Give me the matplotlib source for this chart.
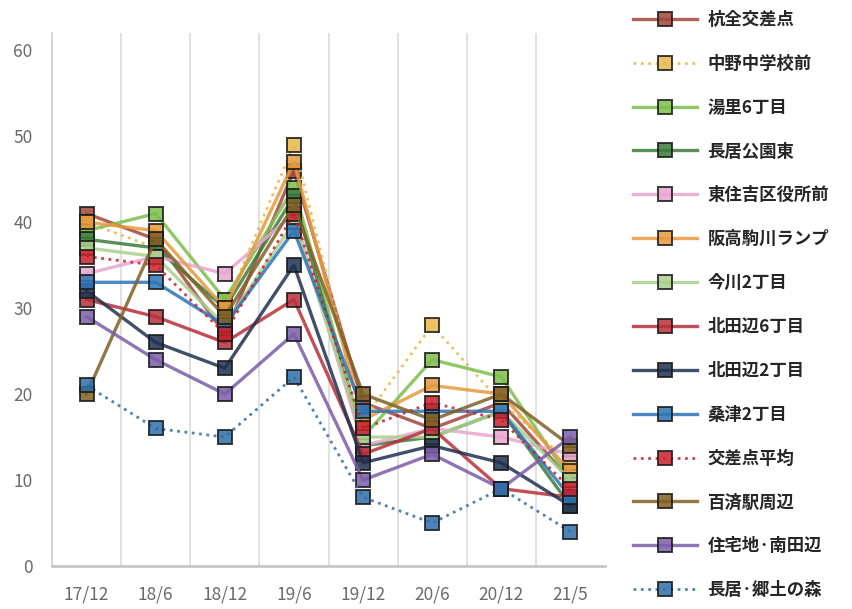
import matplotlib
matplotlib.use("Agg")
import matplotlib.pyplot as plt
from matplotlib.lines import Line2D

plt.rcParams['font.family'] = ['Noto Sans CJK JP', 'DejaVu Sans']

periods = ["17/12", "18/6", "18/12", "19/6", "19/12", "20/6", "20/12", "21/5"]

names = ["杭全交差点", "中野中学校前", "湯里6丁目", "長居公園東", "東住吉区役所前",
         "阪高駒川ランプ", "今川2丁目", "北田辺6丁目", "北田辺2丁目", "桑津2丁目",
         "交差点平均", "百済駅周辺", "住宅地·南田辺", "長居·郷土の森"]

kumata       = [41, 38, 27, 46, 19, 16, 19, 10]
nakano       = [40, 37, 30, 49, 17, 28, 19, 12]
yuzato       = [39, 41, 31, 44, 15, 24, 22, 10]
nagai_east   = [38, 37, 30, 43, 14, 15, 18, 7]
ward_office  = [34, 36, 34, 41, 14, 16, 15, 13]
komagawa     = [40, 39, 30, 47, 17, 21, 20, 11]
imagawa      = [37, 36, 28, 40, 15, 15, 18, 10]
kitatanabe6  = [31, 29, 26, 31, 13, 16, 9, 8]
kitatanabe2  = [32, 26, 23, 35, 12, 14, 12, 7]
kuwazu       = [33, 33, 28, 39, 18, 18, 18, 8]
crossing_avg = [36, 35, 27, 41, 16, 19, 17, 9]
kudara       = [20, 38, 29, 42, 20, 17, 20, 14]
residential  = [29, 24, 20, 27, 10, 13, 9, 15]
nagai_forest = [21, 16, 15, 22, 8, 5, 9, 4]

series = [kumata, nakano, yuzato, nagai_east, ward_office, komagawa, imagawa,
          kitatanabe6, kitatanabe2, kuwazu, crossing_avg, kudara, residential,
          nagai_forest]

colors = ["#a2473a", "#e8b84a", "#7dbf4e", "#3c7d3c", "#e8a6cf", "#e69a3e",
          "#a9d18e", "#b8303a", "#1f3150", "#2e75b6", "#c8202c", "#806025",
          "#7a5ea8", "#2f6ea8"]
styles = ["-", ":", "-", "-", "-", "-", "-", "-", "-", "-", ":", "-", "-", ":"]

fig = plt.figure(figsize=(8.52, 6.09), dpi=100)
ax = fig.add_axes([52 / 852, 43 / 609, 553 / 852, 533 / 609])

x = list(range(len(periods)))
handles = []
for vals, c, ls, name in zip(series, colors, styles, names):
    lw = 2.4 if ls == "-" else 2.0
    ax.plot(x, vals, linestyle=ls, color=c, linewidth=lw, alpha=0.85,
            marker="s", markersize=9.5, markerfacecolor=c,
            markeredgecolor="#1a1a1a", markeredgewidth=1.4, label=name)
    handles.append(Line2D([0], [0], linestyle=ls, color=c, linewidth=lw,
                          alpha=0.85, marker="s", markersize=9.5,
                          markerfacecolor=c, markeredgecolor="#1a1a1a",
                          markeredgewidth=1.4))

ax.set_xlim(-0.5, len(periods) - 0.5)
ax.set_ylim(0, 62)
ax.set_yticks(range(0, 61, 10))
ax.set_xticks(x)
ax.set_xticklabels(periods)

# light vertical separators between periods
for b in range(1, len(periods)):
    ax.axvline(b - 0.5, color="#dcdcdc", linewidth=1.2, zorder=0)

for side in ["top", "right"]:
    ax.spines[side].set_visible(False)
ax.spines["left"].set_color("#d0d0d0")
ax.spines["left"].set_linewidth(1.2)
ax.spines["bottom"].set_color("#c8c8c8")
ax.spines["bottom"].set_linewidth(2.0)
ax.tick_params(axis="both", length=0, colors="#6a6a6a", labelsize=12.5)
ax.tick_params(axis="y", pad=14)
ax.tick_params(axis="x", pad=14)

leg = fig.legend(handles, names, loc="upper left",
                 bbox_to_anchor=(626 / 852, 1 - 4 / 609),
                 frameon=False, prop={"size": 12.5, "weight": "bold"},
                 handlelength=3.7, handletextpad=0.6, labelspacing=1.49,
                 borderaxespad=0)
for t in leg.get_texts():
    t.set_color("#262626")

fig.savefig("out.png", dpi=100)
